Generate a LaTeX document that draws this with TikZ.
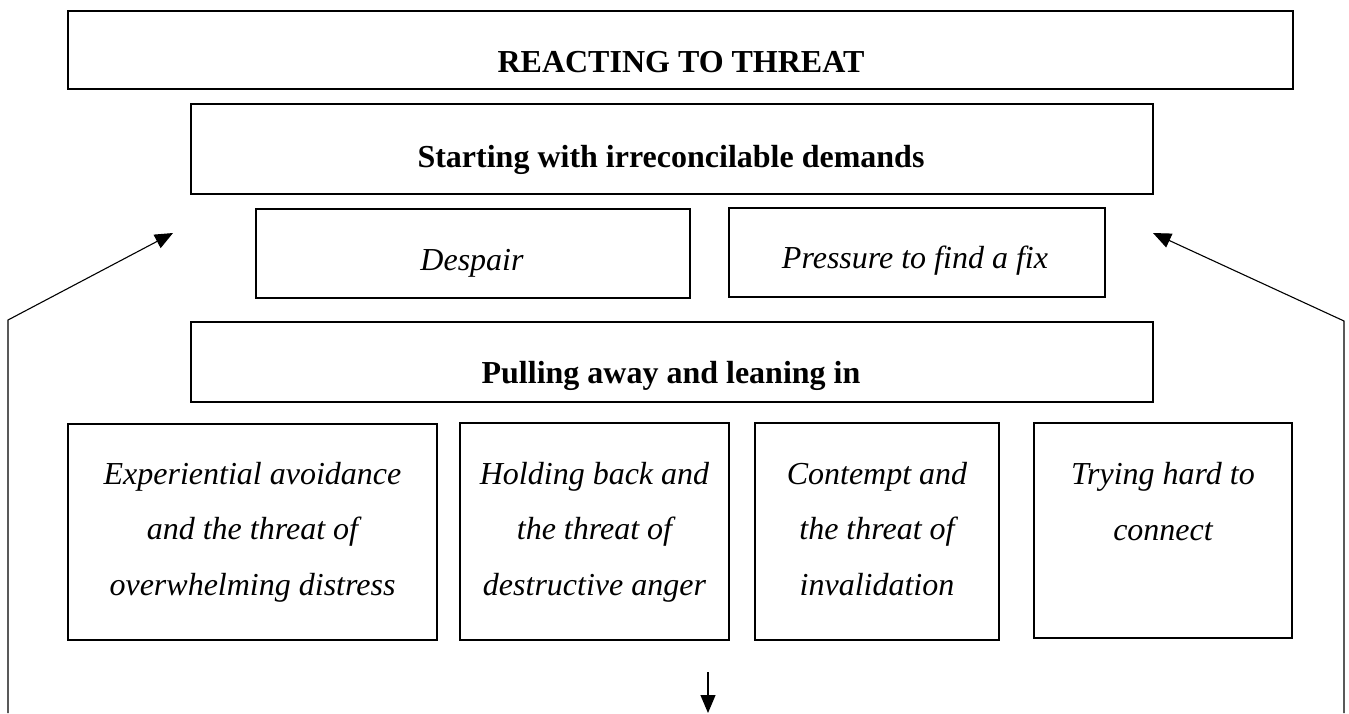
\documentclass[tikz,border=0pt]{standalone}
\usepackage{fontspec}
\setmainfont{Liberation Serif}
\usetikzlibrary{arrows.meta}
\begin{document}
\begin{tikzpicture}[x=0.5pt,y=-0.5pt,
  box/.style={draw, line width=0.55pt, inner sep=0pt, outer sep=0pt},
  txt/.style={inner sep=0pt, anchor=base, align=center, font=\fontsize{16pt}{27.75pt}\selectfont},
  btxt/.style={txt, font=\fontsize{16pt}{27.75pt}\selectfont\bfseries},
  itxt/.style={txt, font=\fontsize{16pt}{27.75pt}\selectfont\itshape},
  arr/.style={line width=0.55pt, -{Triangle[length=9pt,width=7.5pt]}}]
\useasboundingbox (0,0) rectangle (1349,713);
% boxes
\node[box, minimum width=612.5pt, minimum height=39pt] (top) at (680.5,50) {};
\node[box, minimum width=481pt, minimum height=45pt] (start) at (672,149) {};
\node[box, minimum width=217pt, minimum height=44.5pt] (despair) at (473,253.5) {};
\node[box, minimum width=188pt, minimum height=44.5pt] (pressure) at (917,252.5) {};
\node[box, minimum width=481pt, minimum height=40pt] (pull) at (672,362) {};
\node[box, minimum width=184.5pt, minimum height=108pt] (b1) at (252.5,532) {};
\node[box, minimum width=134.5pt, minimum height=108.5pt] (b2) at (594.5,531.5) {};
\node[box, minimum width=122pt, minimum height=108.5pt] (b3) at (877,531.5) {};
\node[box, minimum width=129pt, minimum height=107.5pt] (b4) at (1163,530.5) {};
% texts (base anchor = baseline of the last line)
\node[btxt] (ttop) at (681,72) {REACTING TO THREAT};
\node[btxt] (tstart) at (671,167) {Starting with irreconcilable demands};
\node[itxt] (tdespair) at (472,270) {Despair};
\node[itxt] (tpressure) at (915,268) {Pressure to find a fix};
\node[btxt] (tpull) at (671,383) {Pulling away and leaning in};
\node[itxt] (tb1) at (252.5,595) {Experiential avoidance\\and the threat of\\overwhelming distress};
\node[itxt] (tb2) at (594.5,595) {Holding back and\\the threat of\\destructive anger};
\node[itxt] (tb3) at (877,595) {Contempt and\\the threat of\\invalidation};
\node[itxt] (tb4) at (1163,540) {Trying hard to\\connect};
% connectors
\coordinate (lbot) at (8,713);
\coordinate (lbend) at (8,320);
\coordinate (ltip) at (173,233);
\coordinate (rbot) at (1344,713);
\coordinate (rbend) at (1344,321);
\coordinate (rtip) at (1153,233);
\coordinate (dtop) at (708,672);
\coordinate (dbot) at (708,713);
\draw[arr] (lbot) -- (lbend) -- (ltip);
\draw[arr] (rbot) -- (rbend) -- (rtip);
\draw[arr] (dtop) -- (dbot);
\end{tikzpicture}
\end{document}
